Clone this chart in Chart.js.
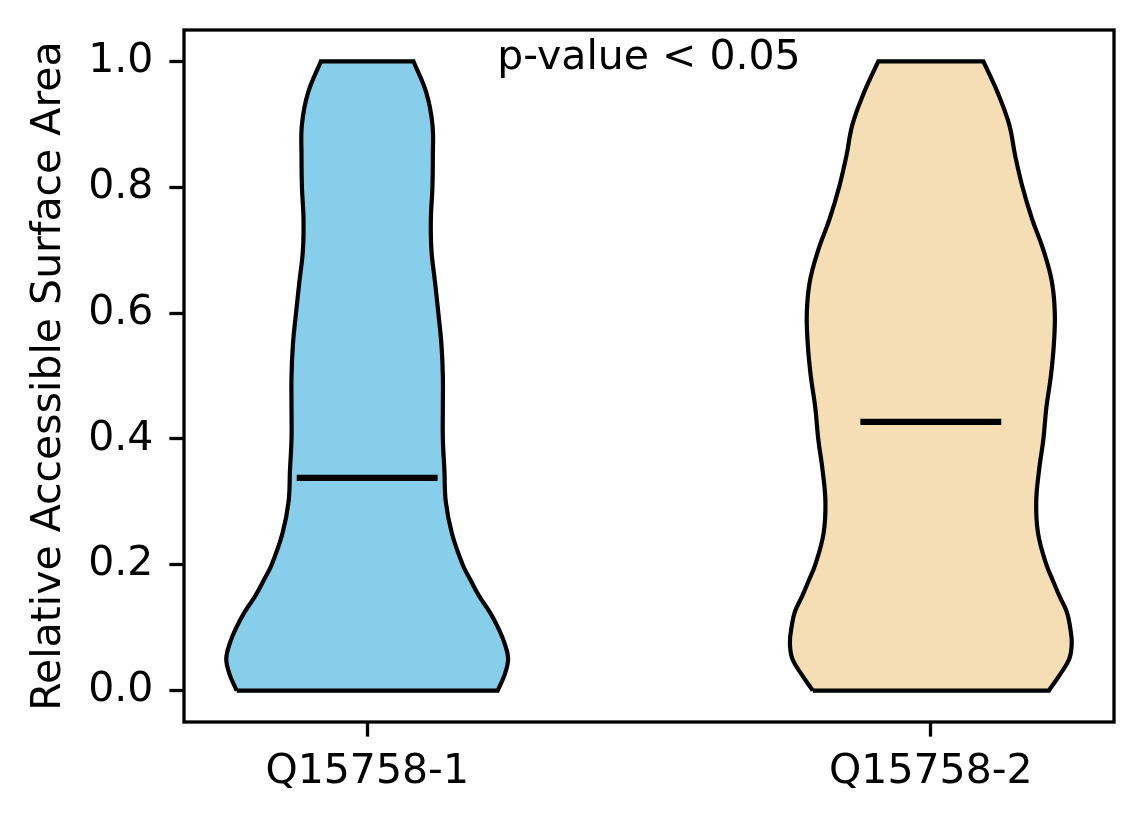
<!DOCTYPE html>
<html>
<head>
<meta charset="utf-8">
<style>
  html, body { margin: 0; padding: 0; background: #fff; }
  #wrap { width: 1144px; height: 824px; }
</style>
<script src="https://cdn.jsdelivr.net/npm/chart.js@4"></script>
</head>
<body>
<div id="wrap"><canvas id="chart" width="1144" height="824"></canvas></div>
<script>
// categories and their x positions
const categories = ['Q15758-1', 'Q15758-2'];
const positions = [1, 2];

const levels = [0, 0.025, 0.05, 0.075, 0.1, 0.125, 0.15, 0.175, 0.2, 0.25, 0.3, 0.35, 0.4,
                0.45, 0.5, 0.55, 0.6, 0.65, 0.7, 0.75, 0.8, 0.85, 0.9, 0.95, 1.0];

// relative density (1 = widest) at each level
const densityQ1 = [0.926, 0.975, 1.0, 0.975, 0.929, 0.869, 0.795, 0.735, 0.678, 0.601, 0.558, 0.548, 0.537,
                   0.537, 0.537, 0.527, 0.505, 0.481, 0.456, 0.452, 0.463, 0.466, 0.463, 0.420, 0.329];
const densityQ2 = [0.838, 0.915, 0.982, 1.0, 0.989, 0.965, 0.913, 0.866, 0.820, 0.761, 0.748, 0.768, 0.799,
                   0.820, 0.852, 0.873, 0.880, 0.859, 0.799, 0.718, 0.651, 0.599, 0.556, 0.475, 0.373];

const medians = [0.338, 0.427];
const yTicks = [0, 0.2, 0.4, 0.6, 0.8, 1.0];

const colors = ['#87CEEB', '#F5DEB3'];
const HALF = 0.25;   // half of violin width
const FONT = '"DejaVu Sans", "Liberation Sans", sans-serif';

function outline(pos, dens) {
  const left = levels.map((y, i) => ({x: pos - dens[i] * HALF, y: y}));
  const right = levels.map((y, i) => ({x: pos + dens[i] * HALF, y: y})).reverse();
  const n = levels.length;
  // doubled corner points keep the flat top and bottom edges straight
  return [...left, left[n - 1], right[0], ...right, right[n - 1], left[0], left[0]];
}

const densities = [densityQ1, densityQ2];
const datasets = [];
positions.forEach((pos, i) => {
  datasets.push({
    data: outline(pos, densities[i]),
    backgroundColor: colors[i],
    borderColor: '#000',
    borderWidth: 4.2,
    fill: 'shape',
    tension: 0.4,
    pointRadius: 0,
    order: 2
  });
  datasets.push({
    data: [{x: pos - HALF / 2, y: medians[i]}, {x: pos + HALF / 2, y: medians[i]}],
    borderColor: '#000',
    borderWidth: 6.25,
    fill: false,
    tension: 0,
    pointRadius: 0,
    borderCapStyle: 'butt',
    order: 1
  });
});

const frame = {
  id: 'frame',
  afterDraw(chart) {
    const {ctx, chartArea: a, scales} = chart;
    ctx.save();
    ctx.strokeStyle = '#000';
    ctx.lineWidth = 3.3;
    ctx.strokeRect(a.left, a.top, a.right - a.left, a.bottom - a.top);
    ctx.fillStyle = '#000';
    ctx.font = '41px ' + FONT;
    ctx.textAlign = 'center';
    ctx.textBaseline = 'alphabetic';
    ctx.fillText('p-value < 0.05', scales.x.getPixelForValue(1.5), scales.y.getPixelForValue(1.0) + 8);
    ctx.restore();
  }
};

new Chart(document.getElementById('chart'), {
  type: 'line',
  data: {datasets: datasets},
  plugins: [frame],
  options: {
    responsive: false,
    animation: false,
    devicePixelRatio: 1,
    events: [],
    layout: {padding: {left: 0, right: 30, top: 30, bottom: 0}},
    plugins: {legend: {display: false}, tooltip: {enabled: false}},
    scales: {
      x: {
        type: 'linear',
        min: 0.675,
        max: 2.325,
        afterBuildTicks: s => { s.ticks = positions.map(v => ({value: v})); },
        afterFit: s => { s.height = 102; s.paddingLeft = 0; s.paddingRight = 0; },
        ticks: {
          callback: v => categories[positions.indexOf(v)],
          color: '#000',
          font: {family: FONT, size: 41},
          padding: 11,
          maxRotation: 0,
          autoSkip: false
        },
        grid: {drawOnChartArea: false, tickLength: 14.6, tickWidth: 3.3, tickColor: '#000'},
        border: {display: false}
      },
      y: {
        type: 'linear',
        min: -0.05,
        max: 1.05,
        afterBuildTicks: s => { s.ticks = yTicks.map(v => ({value: v})); },
        afterFit: s => { s.width = 184; s.paddingTop = 0; s.paddingBottom = 0; },
        ticks: {
          callback: v => v.toFixed(1),
          color: '#000',
          font: {family: FONT, size: 41},
          padding: 16
        },
        grid: {drawOnChartArea: false, tickLength: 14.6, tickWidth: 3.3, tickColor: '#000'},
        border: {display: false},
        title: {
          display: true,
          text: 'Relative Accessible Surface Area',
          color: '#000',
          font: {family: FONT, size: 41},
          padding: {top: 25, bottom: 0}
        }
      }
    }
  }
});
</script>
</body>
</html>
